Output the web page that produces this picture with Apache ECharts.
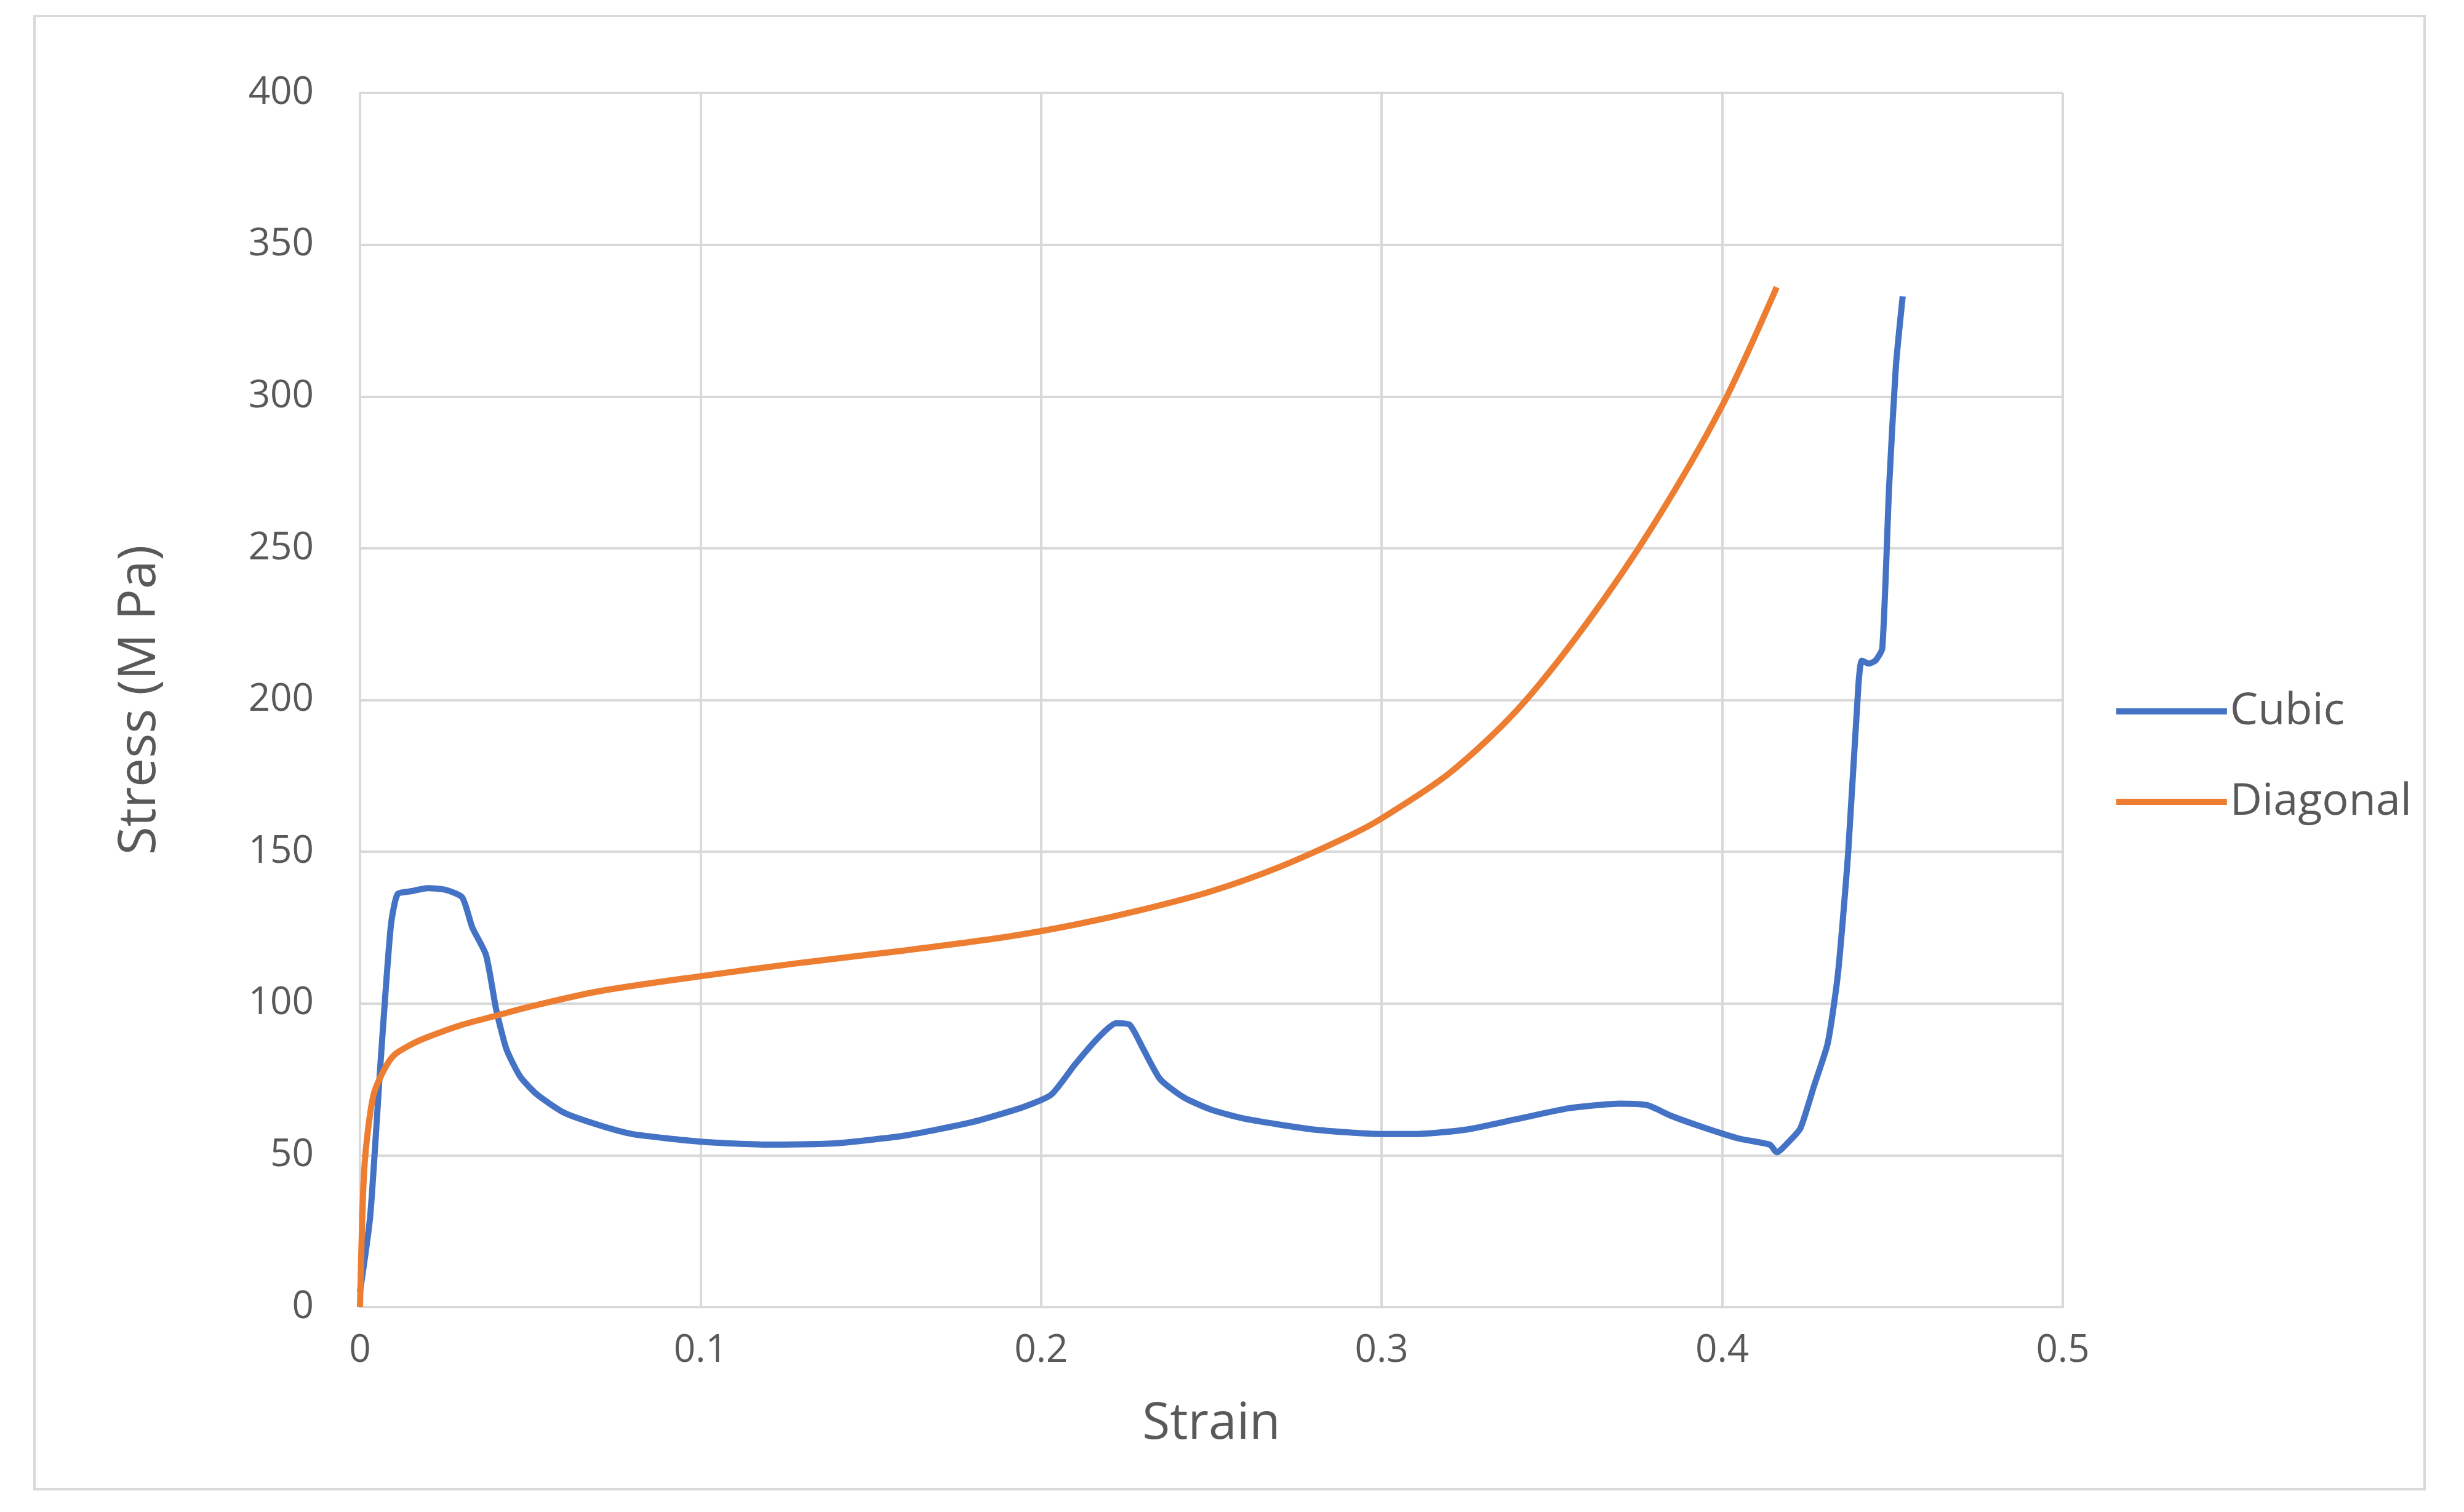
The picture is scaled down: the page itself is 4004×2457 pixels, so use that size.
<!DOCTYPE html>
<html>
<head>
<meta charset="utf-8">
<script src="https://cdn.jsdelivr.net/npm/echarts@6/dist/echarts.min.js"></script>
<style>html,body{margin:0;padding:0;background:#fff}#chart{width:4004px;height:2457px}</style>
</head>
<body>
<div id="chart"></div>
<script>
// strain / stress pairs
var cubicStrain = [0,0.003,0.006,0.009,0.011,0.015,0.02,0.025,0.03,0.033,0.037,0.04,0.043,0.047,0.052,0.06,0.07,0.08,0.1,0.12,0.14,0.16,0.18,0.195,0.203,0.21,0.217,0.222,0.226,0.23,0.235,0.242,0.25,0.26,0.28,0.3,0.31,0.325,0.34,0.355,0.37,0.378,0.385,0.395,0.405,0.414,0.416,0.42,0.423,0.427,0.431,0.434,0.437,0.44,0.441,0.443,0.445,0.447,0.449,0.451,0.453];
var cubicStress = [5,30,80,125,136,137,138,137.5,135,125,116,98,85,76,70,64,60,57,54.5,53.5,54,56.5,61,66,70,80,89,93.5,93,85,75,69,65,62,58.5,57,57,58.5,62,65.5,67,66.5,63,59,55.5,53.5,51,55,59,73,87,110,150,205,213,212,213,217,270,310,333];
var diagStrain = [0,0.001,0.002,0.004,0.007,0.01,0.015,0.02,0.03,0.04,0.05,0.07,0.1,0.13,0.16,0.19,0.21,0.23,0.25,0.27,0.29,0.3,0.32,0.34,0.36,0.38,0.4,0.416];
var diagStress = [0,40,55,70,78,83,86.5,89,93,96,99,104,109,113.5,117.5,122,126,131,137,145,155,161,176,197,225,258,297,336];

function pairs(xs, ys) {
    return xs.map(function (x, i) { return [x, ys[i]]; });
}

var chart = echarts.init(document.getElementById('chart'));
var font = 'Open Sans, Liberation Sans, sans-serif';
chart.setOption({
    backgroundColor: '#fff',
    animation: false,
    graphic: [{
        type: 'rect',
        shape: {x: 56, y: 26, width: 3884, height: 2394},
        style: {fill: 'none', stroke: '#d9d9d9', lineWidth: 4}
    }],
    grid: {left: 585, right: 652, top: 151, bottom: 333},
    legend: {
        orient: 'vertical', right: 80, top: 1115, itemGap: 75,
        itemWidth: 180, itemHeight: 10,
        icon: 'rect',
        textStyle: {fontSize: 72, color: '#595959', fontFamily: font},
        data: ['Cubic', 'Diagonal']
    },
    xAxis: {
        type: 'value', min: 0, max: 0.5, interval: 0.1,
        name: 'Strain', nameLocation: 'middle', nameGap: 150,
        nameTextStyle: {fontSize: 82, color: '#595959', fontFamily: font},
        axisLine: {lineStyle: {color: '#d9d9d9', width: 4}},
        axisTick: {show: false},
        axisLabel: {fontSize: 62, color: '#595959', margin: 40, fontFamily: font},
        splitLine: {lineStyle: {color: '#d9d9d9', width: 4}}
    },
    yAxis: {
        type: 'value', min: 0, max: 400, interval: 50,
        name: 'Stress (M Pa)', nameLocation: 'middle', nameGap: 315,
        nameTextStyle: {fontSize: 84, color: '#595959', fontFamily: font},
        axisLine: {show: true, lineStyle: {color: '#d9d9d9', width: 4}},
        axisTick: {show: false},
        axisLabel: {fontSize: 62, color: '#595959', margin: 75, fontFamily: font},
        splitLine: {lineStyle: {color: '#d9d9d9', width: 4}}
    },
    series: [{
        name: 'Cubic', type: 'line', showSymbol: false, smooth: 0.2,
        data: pairs(cubicStrain, cubicStress),
        itemStyle: {color: '#4472C4'},
        lineStyle: {color: '#4472C4', width: 10}
    }, {
        name: 'Diagonal', type: 'line', showSymbol: false, smooth: 0.3,
        data: pairs(diagStrain, diagStress),
        itemStyle: {color: '#ED7D31'},
        lineStyle: {color: '#ED7D31', width: 10}
    }]
});
</script>
</body>
</html>
